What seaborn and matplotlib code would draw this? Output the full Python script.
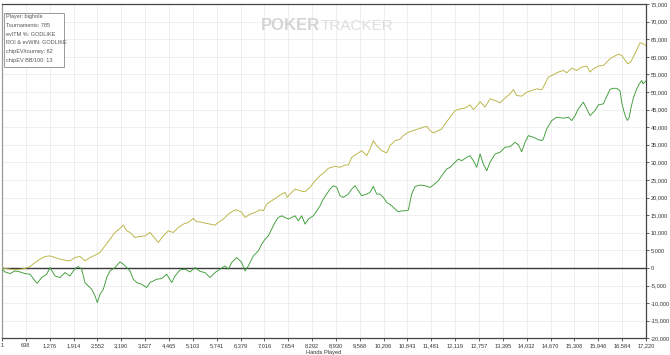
import matplotlib
matplotlib.use("Agg")
import matplotlib.pyplot as plt
import seaborn as sns
import pandas as pd
from matplotlib.ticker import FuncFormatter
from matplotlib.patches import Rectangle

# ---------------- data ----------------
ev_hands = [1, 81, 215, 349, 482, 616, 750, 883, 1017, 1151, 1285, 1418, 1552, 1686, 1819,
            1953, 2087, 2220, 2354, 2488, 2622, 2755, 2889, 3023, 3156, 3245, 3336, 3424, 3557,
            3691, 3825, 3958, 4092, 4180, 4314, 4448, 4582, 4715, 4849, 4983, 5116, 5207, 5296,
            5429, 5563, 5697, 5785, 5919, 6052, 6186, 6277, 6411, 6499, 6633, 6766, 6900, 6988,
            7079, 7213, 7347, 7480, 7568, 7630, 7702, 7836, 7970, 8103, 8237, 8371, 8504, 8638,
            8726, 8817, 8905, 9039, 9173, 9261, 9352, 9486, 9619, 9753, 9841, 9930, 10020, 10154,
            10288, 10376, 10510, 10644, 10732, 10866, 10999, 11133, 11267, 11358, 11446, 11534,
            11668, 11759, 11847, 11981, 12114, 12248, 12382, 12515, 12604, 12695, 12783, 12916,
            13050, 13184, 13318, 13451, 13585, 13673, 13764, 13898, 14032, 14165, 14299, 14433,
            14521, 14609, 14743, 14876, 15010, 15101, 15235, 15368, 15502, 15636, 15724, 15812,
            15946, 16080, 16171, 16259, 16347, 16481, 16572, 16633, 16732, 16812, 16882, 16973,
            17061, 17141, 17220]
ev_chips = [100, -150, -370, -570, -370, -170, 400, 1540, 2480, 3250, 3420, 2960, 2480, 2190, 1990,
            2960, 3250, 1990, 2960, 3620, 4390, 6270, 8170, 10080, 11220, 12160, 10540, 10080, 8660,
            8940, 9110, 10080, 8370, 7230, 9110, 10540, 10080, 11510, 12450, 12930, 14070, 13100, 13100,
            12730, 12450, 12160, 12930, 13870, 15290, 16230, 16520, 15780, 14350, 15290, 15780, 16520, 16230,
            18140, 19080, 20050, 20990, 21470, 20050, 20990, 22410, 21930, 21650, 22900, 24780, 26200, 27340,
            28310, 28590, 28880, 28590, 29250, 29250, 31440, 32380, 33320, 31900, 33810, 36170, 34750, 33320,
            32670, 34750, 36170, 36570, 37590, 38560, 39020, 39500, 39990, 40270, 39020, 38360,
            39020, 39500, 40930, 42830, 44710, 45200, 45400, 46340, 45000, 45970, 47280, 45680,
            48050, 47560, 46910, 48250, 49470, 50690, 48990, 48820, 49950, 50410, 50890, 50610,
            52320, 54230, 54880, 55650, 56110, 55450, 56790, 56110, 57070, 57360, 55650, 56590,
            57360, 57530, 58500, 59440, 60010, 60720, 60380, 59440, 58010, 58500, 60010, 62000,
            64000, 63710, 63140]

won_hands = [1, 81, 215, 349, 482, 616, 750, 883, 945, 1063, 1196, 1285, 1418, 1552, 1686, 1819,
             1953, 2041, 2132, 2220, 2309, 2400, 2488, 2549, 2622, 2710, 2801, 2889, 3023, 3156,
             3245, 3336, 3424, 3512, 3603, 3737, 3870, 3958, 4047, 4138, 4271, 4405, 4539, 4627,
             4761, 4894, 5028, 5162, 5296, 5429, 5563, 5697, 5830, 5964, 6052, 6143, 6277, 6411,
             6499, 6587, 6721, 6855, 6945, 7034, 7122, 7213, 7301, 7389, 7480, 7568, 7657, 7748,
             7836, 7924, 8015, 8103, 8192, 8325, 8416, 8504, 8593, 8684, 8772, 8860, 8951, 9039,
             9127, 9261, 9352, 9440, 9529, 9619, 9753, 9841, 9930, 10020, 10109, 10197, 10288,
             10422, 10510, 10598, 10689, 10777, 10866, 10956, 11045, 11178, 11312, 11446, 11534,
             11668, 11759, 11892, 11981, 12069, 12203, 12293, 12427, 12515, 12604, 12695, 12783,
             12871, 12962, 13050, 13184, 13318, 13451, 13585, 13719, 13807, 13898, 13986, 14074,
             14208, 14342, 14433, 14475, 14566, 14700, 14834, 15010, 15144, 15235, 15323, 15411,
             15545, 15636, 15724, 15858, 15946, 16080, 16171, 16259, 16347, 16438, 16526, 16572,
             16633, 16687, 16722, 16767, 16812, 16882, 16973, 17042, 17107, 17141, 17220]
won_chips = [-370, -1140, -1600, -850, -1140, -1600, -1790, -3700, -4360, -2730, -1790, 110, -2280, -2730, -1310, -2280,
             -170, 400, -370, -4160, -5130, -6070, -7970, -9850, -7490, -6070, -2730, -850, 110, 1710,
             1050, 110, -850, -3220, -4160, -4640, -5580, -4160, -3700, -3220, -3020, -1790, -4160, -2280,
             -570, -370, -1140, 110, -1000, -1310, -2730, -1310, -370, 570, -370, 1540, 2960, 1540,
             -850, 570, 3420, 4840, 6750, 8170, 9110, 11020, 12930, 14350, 14810, 14350, 13870, 14350,
             14810, 13390, 14810, 12450, 13870, 14810, 16230, 17660, 19570, 20990, 22410, 23350, 22900, 20510,
             20050, 20990, 22410, 23350, 21930, 20510, 20990, 21470, 23180, 20990, 20990, 20050, 18630,
             17660, 16720, 15950, 16230, 16230, 16430, 20990, 23130, 23550, 23350, 22900, 23550,
             24780, 26200, 28110, 28590, 29530, 30960, 30470, 31440, 31900, 30470, 28590, 32380,
             29530, 27630, 30020, 32380, 32870, 34290, 34460, 35710, 34950, 33040, 35710, 37590,
             37140, 36450, 36170, 36650, 39500, 41870, 42830, 42550, 42830, 41870, 43290, 45200,
             47110, 45200, 43290, 44710, 46340, 46620, 48760, 50750, 51040, 51040, 50320, 46910,
             44340, 42640, 41920, 42640, 45200, 48330, 50890, 52320, 53260, 52320, 53170]

x_ticks = [1, 638, 1276, 1914, 2552, 3190, 3827, 4465, 5103, 5741, 6379, 7016, 7654, 8292,
           8930, 9568, 10206, 10843, 11481, 12119, 12757, 13395, 14032, 14670, 15308, 15946,
           16584, 17220]
y_ticks = list(range(-20000, 75001, 5000))

info_lines = ["Player: bighole", "Tournaments: 785", "evITM %: GODLIKE",
              "ROI & evWIN: GODLIKE", "chipEV/tourney: 62", "chipEV BB/100: 13"]

ev_df = pd.DataFrame({"Hands": ev_hands, "Chips": ev_chips})
won_df = pd.DataFrame({"Hands": won_hands, "Chips": won_chips})

# ---------------- style ----------------
sns.set_theme(style="white")
plt.rcParams["font.family"] = ["Liberation Sans", "DejaVu Sans"]

W, H = 670, 355
fig = plt.figure(figsize=(W / 100, H / 100), dpi=100)
fig.patch.set_facecolor("white")
ax = fig.add_axes([2 / W, 1 - 338.3 / H, 644 / W, 334.3 / H])
ax.set_facecolor("white")

ax.set_xlim(1, 17220)
ax.set_ylim(-20000, 75000)
ax.set_xticks(x_ticks)
ax.set_yticks(y_ticks)
ax.grid(True, color="#ececec", linewidth=0.6)
ax.set_axisbelow(True)

ax.axhline(0, color="#3a3a3a", linewidth=1.0, zorder=2)

sns.lineplot(data=ev_df, x="Hands", y="Chips", ax=ax, color="#b9b240",
             linewidth=0.65, estimator=None, zorder=3)
sns.lineplot(data=won_df, x="Hands", y="Chips", ax=ax, color="#3c9c37",
             linewidth=0.65, estimator=None, zorder=4)

ax.yaxis.tick_right()
ax.yaxis.set_label_position("right")
ax.set_ylabel("")
ax.yaxis.set_major_formatter(FuncFormatter(lambda v, p: f"{int(v):,}"))
ax.xaxis.set_major_formatter(FuncFormatter(lambda v, p: f"{int(v):,}"))
ax.tick_params(axis="both", which="major", length=2.5, width=0.6, color="#444444",
               labelsize=4.1, labelcolor="#333333", pad=1.0)
ax.tick_params(axis="y", right=True, left=False)
ax.tick_params(axis="x", bottom=True)
ax.set_xlabel("Hands Played", fontsize=4.1, color="#333333", labelpad=1.0)

for side in ["top", "right", "bottom"]:
    ax.spines[side].set_color("#444444")
    ax.spines[side].set_linewidth(0.9)
ax.spines["left"].set_color("#9a9a9a")
ax.spines["left"].set_linewidth(0.9)

# watermark
fig.text(261 / W, 1 - 25.5 / H, "POKER", fontsize=12, fontweight="bold",
         color="#d4d4d4", ha="left", va="center")
fig.text(321 / W, 1 - 25.5 / H, "TRACKER", fontsize=11, color="#dedede",
         ha="left", va="center")

# info box
box = Rectangle((3.5 / W, 1 - 66.7 / H), 60.5 / W, 54 / H, transform=fig.transFigure,
                facecolor="white", edgecolor="#8a8a8a", linewidth=0.6, zorder=10)
fig.add_artist(box)
line_y = [16.7, 25.7, 34.3, 43.0, 51.7, 60.3]
for txt, yy in zip(info_lines, line_y):
    fig.text(6 / W, 1 - yy / H, txt, fontsize=4.0, color="#555555",
             ha="left", va="center", zorder=11)

fig.savefig("out.png", dpi=100, facecolor="white")
